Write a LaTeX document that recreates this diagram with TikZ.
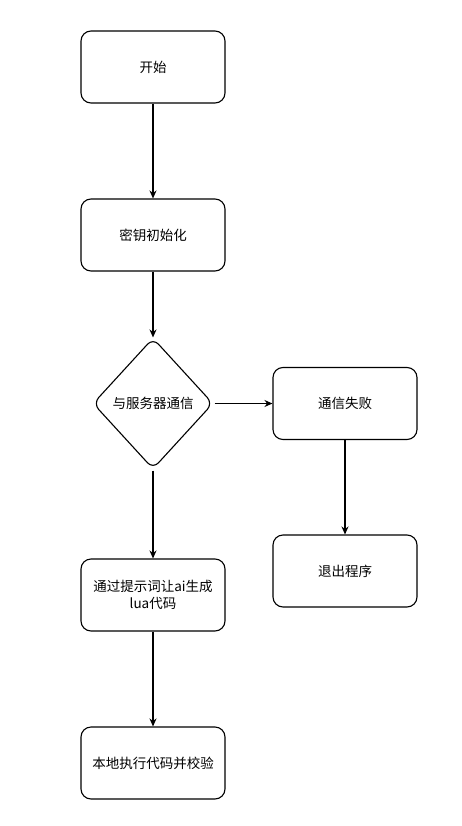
\documentclass[tikz,border=0pt]{standalone}
\usepackage{fontspec}
\newfontfamily\cjk{Noto Sans CJK SC}
\usetikzlibrary{positioning,shapes.geometric,arrows.meta}

\begin{document}
\begin{tikzpicture}[x=1pt,y=-1pt,
    flowbox/.style={rectangle,draw,line width=1.1pt,rounded corners=10pt,minimum width=144pt,minimum height=72pt,align=center,font=\cjk\fontsize{13.5}{17.5}\selectfont},
    decide/.style={diamond,draw,line width=1.1pt,rounded corners=8pt,minimum width=120pt,minimum height=131pt,inner sep=0pt,font=\cjk\fontsize{13.5}{17.5}\selectfont},
    flow/.style={-{Stealth[length=8pt,width=7pt]},line width=1.1pt}]
    \useasboundingbox (0,0) rectangle (461,826);
            \node[flowbox] (start) at (153,67) {开始};
            \node[flowbox] (keyinit) at (153,235) {密钥初始化};
            \node[decide] (comm) at (153,403.5) {\makebox[0pt]{与服务器通信}};
            \node[flowbox] (fail) at (345,403.5) {通信失败};
            \node[flowbox] (quit) at (345,571) {退出程序};
            \node[flowbox] (aigen) at (153,595) {通过提示词让ai生成\\lua代码};
            \node[flowbox] (verify) at (153,763) {本地执行代码并校验};

            \draw[flow] (start) -- (keyinit);
            \draw[flow] (keyinit) -- (comm);
            \draw[flow] (comm.east) ++(1,0) -- (fail.west);
            \draw[flow] (comm.south) ++(0,1) -- (aigen.north);
            \draw[flow] (fail) -- (quit);
            \draw[flow] (aigen) -- (verify);
        \end{tikzpicture}
\end{document}
